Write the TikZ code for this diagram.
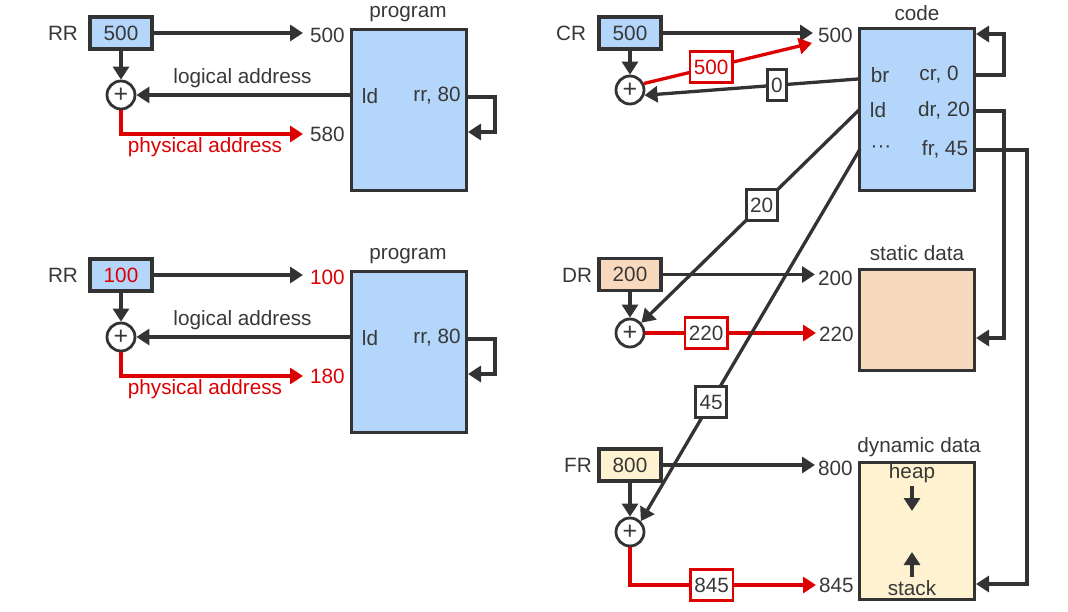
\documentclass[tikz,border=0pt]{standalone}
\usepackage{fontspec}
\setmainfont{Liberation Sans}
\usetikzlibrary{arrows.meta}
\definecolor{ink}{HTML}{333333}
\definecolor{txt}{HTML}{383838}
\definecolor{rd}{HTML}{DD0000}
\definecolor{blu}{HTML}{B3D6FA}
\definecolor{pch}{HTML}{F9D9BD}
\definecolor{ylw}{HTML}{FFF2D0}
\begin{document}
\begin{tikzpicture}[x=1pt,y=-1pt,
  every node/.style={font=\fontsize{20.7}{25}\selectfont, text=txt},
  lbl/.style={inner sep=0pt},
  reg/.style={draw=ink, line width=3.4pt, minimum width=62pt, minimum height=32pt, inner sep=0pt},
  mem/.style={draw=ink, line width=3.4pt, inner sep=0pt},
  sum/.style={circle, draw=ink, line width=2.8pt, minimum size=28pt, inner sep=0pt, fill=white, font=\fontsize{25}{25}\selectfont},
  valbox/.style={draw=ink, fill=white, line width=2.8pt, minimum height=31pt, inner xsep=4pt, inner ysep=0pt, text=txt},
  arr/.style={draw=ink, line width=3.3pt, -{Triangle[length=13pt,width=16pt]}},
  rarr/.style={arr, draw=rd, color=rd}
]
\useasboundingbox (0,0) rectangle (1068,612);

% ---------- left panel 1 ----------
\node[lbl] (rrlabA) at (63,33) {RR};
\node[reg, fill=blu] (rrA) at (121,33) {500};
\node[lbl, anchor=west] (adrA) at (310,35) {500};
\node[mem, fill=blu, minimum width=115pt, minimum height=161pt] (progA) at (409,110) {};
\node[lbl] (progtA) at (408,14) {program};
\node[sum] (sumA) at (121,95) {+};
\node[lbl] (ldA) at (370,96) {ld};
\node[lbl] (rrargA) at (437,96) {rr, 80};
\node[lbl] (logA) at (242.5,78) {logical address};
\node[lbl, anchor=west] (physadrA) at (310,134) {580};
\node[lbl, text=rd] (physA) at (205,147) {physical address};
\coordinate (pl1A) at (468,97);
\coordinate (pl2A) at (468,132);
\draw[arr, shorten >=7pt] (rrA.east) -- (rrA.east -| adrA.west);
\draw[arr] (rrA.south) -- (sumA.north);
\draw[arr] (progA.west |- sumA.east) -- (sumA.east);
\draw[rarr, shorten >=7pt] (sumA.south) |- (physadrA.west);
\draw[arr] (pl1A) -- ++(27,0) |- (pl2A);

% ---------- left panel 2 ----------
\node[lbl] (rrlabB) at (63,275) {RR};
\node[reg, fill=blu, text=rd] (rrB) at (121,275) {100};
\node[lbl, anchor=west, text=rd] (adrB) at (310,277) {100};
\node[mem, fill=blu, minimum width=115pt, minimum height=161pt] (progB) at (409,352) {};
\node[lbl] (progtB) at (408,256) {program};
\node[sum] (sumB) at (121,337) {+};
\node[lbl] (ldB) at (370,338) {ld};
\node[lbl] (rrargB) at (437,338) {rr, 80};
\node[lbl] (logB) at (242.5,320) {logical address};
\node[lbl, anchor=west, text=rd] (physadrB) at (310,376) {180};
\node[lbl, text=rd] (physB) at (205,389) {physical address};
\coordinate (pl1B) at (468,339);
\coordinate (pl2B) at (468,374);
\draw[arr, shorten >=7pt] (rrB.east) -- (rrB.east -| adrB.west);
\draw[arr] (rrB.south) -- (sumB.north);
\draw[arr] (progB.west |- sumB.east) -- (sumB.east);
\draw[rarr, shorten >=7pt] (sumB.south) |- (physadrB.west);
\draw[arr] (pl1B) -- ++(27,0) |- (pl2B);

% ---------- right panel: code ----------
\node[lbl] (crlab) at (571,33) {CR};
\node[reg, fill=blu] (cr) at (630,33) {500};
\node[lbl, anchor=west] (cadr) at (818,35) {500};
\node[mem, fill=blu, minimum width=115pt, minimum height=162pt] (code) at (917,109.5) {};
\node[lbl] (codet) at (917,13) {code};
\node[lbl] (br) at (880,75) {br};
\node[lbl] (cr0) at (939,75) {cr, 0};
\node[lbl] (ldc) at (878,110) {ld};
\node[lbl] (dr20) at (944,110) {dr, 20};
\node[lbl] (dots) at (881,149) {···};
\node[lbl] (fr45) at (945,149) {fr, 45};
\node[sum] (csum) at (630,90) {+};
\coordinate (c500in) at (812,43);
\coordinate (brout) at (858,79);
\coordinate (c0out) at (976,75);
\coordinate (c0in) at (976,34);
\draw[arr, shorten >=5pt] (cr.east) -- (cr.east -| cadr.west);
\draw[arr] (cr.south) -- (csum.north);
\draw[rarr] (csum.25) -- node[valbox, draw=rd, text=rd, pos=0.4] (v500) {500} (c500in);
\draw[arr] (brout) -- node[valbox, pos=0.38] (v0) {0} (csum.-20);
\draw[arr] (c0out) -- ++(28,0) |- (c0in);

% ---------- static data ----------
\node[lbl] (drlab) at (577,275) {DR};
\node[reg, fill=pch] (dr) at (630,274.5) {200};
\node[lbl, anchor=west] (dadr) at (818,278) {200};
\node[mem, fill=pch, minimum width=115pt, minimum height=101pt] (stat) at (917,320) {};
\node[lbl] (statt) at (917,253) {static data};
\node[sum] (dsum) at (630,333) {+};
\node[lbl, anchor=west] (dadr2) at (819,334) {220};
\coordinate (ldout) at (860,109);
\coordinate (d20out) at (976,111);
\coordinate (statin) at (976,338);
\draw[arr] (ldout) -- node[valbox, pos=0.45] (v20) {20} (dsum.42);
\draw[arr, shorten >=3pt] (dr.east) -- (dr.east -| dadr.west);
\draw[arr] (dr.south) -- (dsum.north);
\draw[rarr, shorten >=3pt] (dsum.east) -- node[valbox, draw=rd, text=txt, pos=0.35] (v220) {220} (dsum.east -| dadr2.west);
\draw[arr] (d20out) -- ++(28,0) |- (statin);

% ---------- dynamic data ----------
\node[lbl] (frlab) at (578,465) {FR};
\node[reg, fill=ylw] (fr) at (630,465) {800};
\node[lbl, anchor=west] (fadr) at (818,468) {800};
\node[mem, fill=ylw, minimum width=115pt, minimum height=137pt] (dyn) at (917,531) {};
\node[lbl] (dynt) at (919,447) {dynamic data};
\node[lbl] (heap) at (912,473) {heap};
\node[lbl] (stack) at (912,588) {stack};
\coordinate (hpa) at (912,486);
\coordinate (hpb) at (912,511);
\coordinate (sta) at (912,577);
\coordinate (stb) at (912,552);
\draw[arr] (hpa) -- (hpb);
\draw[arr] (sta) -- (stb);
\node[sum] (fsum) at (630,532) {+};
\node[lbl, anchor=west] (fadr2) at (819,585) {845};
\coordinate (dotsout) at (860,149);
\coordinate (f45out) at (976,150);
\coordinate (dynin) at (976,584);
\draw[arr] (dotsout) -- node[valbox, pos=0.68] (v45) {45} (fsum.45);
\draw[arr, shorten >=3pt] (fr.east) -- (fr.east -| fadr.west);
\draw[arr] (fr.south) -- (fsum.north);
\draw[rarr, shorten >=3pt] (fsum.south) |- node[valbox, draw=rd, text=txt, pos=0.716] (v845) {845} (fadr2.west);
\draw[arr] (f45out) -- ++(51,0) |- (dynin);
\end{tikzpicture}
\end{document}
